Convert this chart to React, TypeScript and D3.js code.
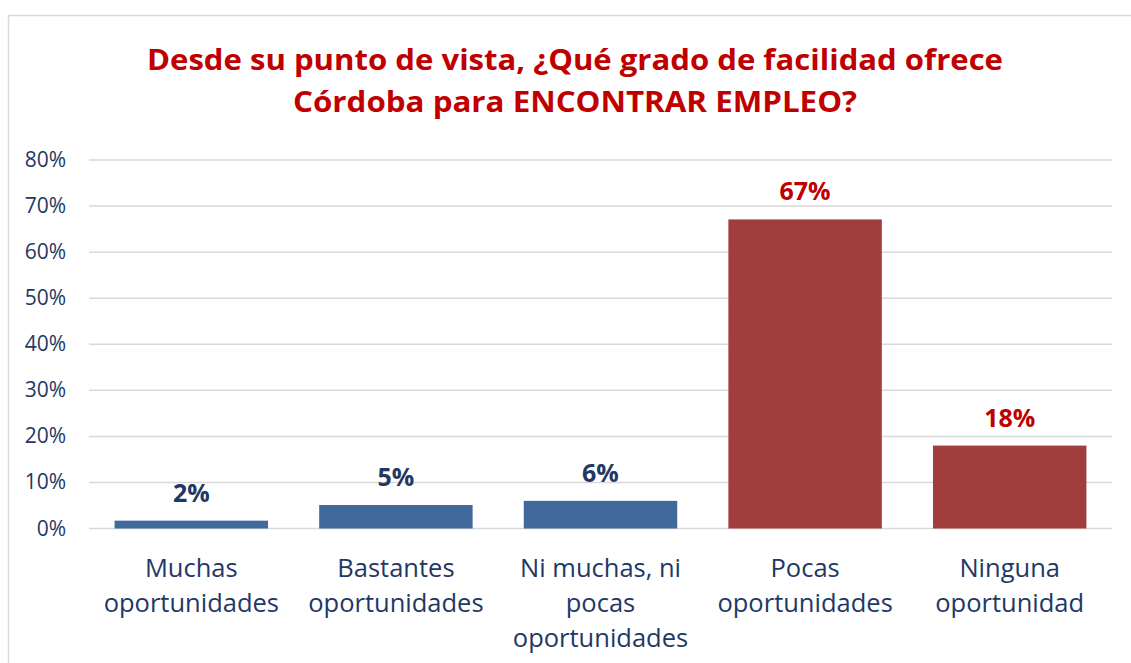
import React, { useEffect, useRef } from "react";
import * as d3 from "d3";

const categories = [
  "Muchas oportunidades",
  "Bastantes oportunidades",
  "Ni muchas, ni pocas oportunidades",
  "Pocas oportunidades",
  "Ninguna oportunidad",
];
const categoryLines = [
  ["Muchas", "oportunidades"],
  ["Bastantes", "oportunidades"],
  ["Ni muchas, ni", "pocas", "oportunidades"],
  ["Pocas", "oportunidades"],
  ["Ninguna", "oportunidad"],
];
const values = [0.017, 0.051, 0.06, 0.671, 0.18];
const valueLabels = ["2%", "5%", "6%", "67%", "18%"];
const groups = ["pos", "pos", "pos", "neg", "neg"];
const yTicks = [0, 0.1, 0.2, 0.3, 0.4, 0.5, 0.6, 0.7, 0.8];
const titleLines = [
  "Desde su punto de vista, ¿Qué grado de facilidad ofrece",
  "Córdoba para ENCONTRAR EMPLEO?",
];

const W = 1131;
const H = 663;
const FONT = "'Open Sans', 'Noto Sans', sans-serif";
const BAR = { pos: "#416A9C", neg: "#A03E3D" };
const LABEL = { pos: "#1F3864", neg: "#C00000" };
const AXIS_TEXT = "#1F3864";

export default function App() {
  const ref = useRef<SVGSVGElement>(null);

  useEffect(() => {
    const svg = d3.select(ref.current);
    svg.selectAll("*").remove();

    const margin = { top: 160, right: 19, bottom: 134.5, left: 89 };

    // frame
    svg.append("path")
      .attr("d", `M${W},15.5 H8.5 V${H}`)
      .attr("fill", "none")
      .attr("stroke", "#D9D9D9")
      .attr("stroke-width", 1.5);

    // title, stretched to the reference width
    const titleWidths = [856, 564];
    svg.append("g")
      .selectAll("text")
      .data(titleLines)
      .join("text")
      .attr("x", 575)
      .attr("y", (d, i) => 69.5 + i * 42.5)
      .attr("text-anchor", "middle")
      .attr("font-family", FONT)
      .attr("font-weight", "bold")
      .attr("font-size", 29)
      .attr("textLength", (d, i) => titleWidths[i])
      .attr("lengthAdjust", "spacingAndGlyphs")
      .attr("fill", "#C00000")
      .text((d) => d);

    const x = d3.scaleBand<string>()
      .domain(categories)
      .range([margin.left, W - margin.right])
      .paddingInner(0.25)
      .paddingOuter(0.125);

    const y = d3.scaleLinear()
      .domain([0, 0.8])
      .range([H - margin.bottom, margin.top]);

    // grid
    svg.append("g")
      .selectAll("line")
      .data(yTicks)
      .join("line")
      .attr("x1", margin.left)
      .attr("x2", W - margin.right)
      .attr("y1", (d) => y(d))
      .attr("y2", (d) => y(d))
      .attr("stroke", "#D9D9D9")
      .attr("stroke-width", 1.5);

    svg.append("g")
      .selectAll("text")
      .data(yTicks)
      .join("text")
      .attr("x", 66)
      .attr("y", (d) => y(d) + 7)
      .attr("text-anchor", "end")
      .attr("font-family", FONT)
      .attr("font-size", 21)
      .attr("fill", AXIS_TEXT)
      .text((d) => d3.format(".0%")(d));

    // bars
    svg.append("g")
      .selectAll("rect")
      .data(values)
      .join("rect")
      .attr("x", (d, i) => x(categories[i])!)
      .attr("width", x.bandwidth())
      .attr("y", (d) => y(d))
      .attr("height", (d) => y(0) - y(d))
      .attr("fill", (d, i) => BAR[groups[i]]);

    svg.append("g")
      .selectAll("text")
      .data(values)
      .join("text")
      .attr("x", (d, i) => x(categories[i])! + x.bandwidth() / 2)
      .attr("y", (d) => y(d) - 19)
      .attr("text-anchor", "middle")
      .attr("font-family", FONT)
      .attr("font-weight", "bold")
      .attr("font-size", 25)
      .attr("fill", (d, i) => LABEL[groups[i]])
      .text((d, i) => valueLabels[i]);

    // category labels
    const cat = svg.append("g")
      .selectAll("text")
      .data(categoryLines)
      .join("text")
      .attr("text-anchor", "middle")
      .attr("font-family", FONT)
      .attr("font-size", 25.5)
      .attr("fill", AXIS_TEXT)
      .attr("transform", (d, i) =>
        `translate(${x(categories[i])! + x.bandwidth() / 2},577)`);
    cat.selectAll("tspan")
      .data((d) => d)
      .join("tspan")
      .attr("x", 0)
      .attr("y", (d, i) => i * 35)
      .text((d) => d);
  }, []);

  return (
    <svg
      ref={ref}
      width={W}
      height={H}
      style={{ position: "absolute", left: 0, top: 0, background: "#fff" }}
    />
  );
}
